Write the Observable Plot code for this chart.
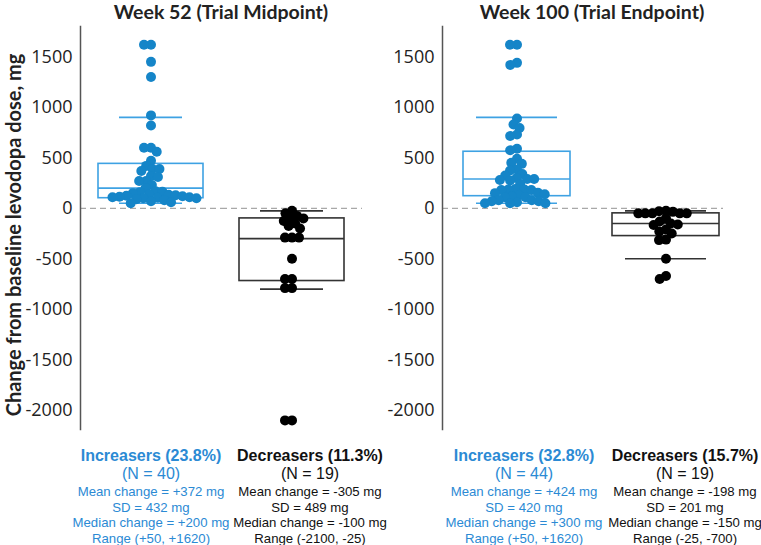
<!DOCTYPE html>
<html><head><meta charset="utf-8">
<script src="https://cdn.jsdelivr.net/npm/d3@7"></script>
<script src="https://cdn.jsdelivr.net/npm/@observablehq/plot@0.6"></script>
<style>
body{margin:0;background:#fff;}
#wrap{position:relative;width:761px;height:545px;overflow:hidden;background:#fff;}
.ttl{position:absolute;top:0px;line-height:21px;font:bold 19.5px Lato, sans-serif;color:#222;white-space:nowrap;transform:translateX(-50%);}
#ylab{position:absolute;left:13px;top:235px;line-height:22px;font:bold 20px Lato, sans-serif;color:#222;white-space:nowrap;transform:translate(-50%,-50%) rotate(-90deg);}
.panel{position:absolute;top:0;}
</style></head><body>
<div id="wrap">
  <div class="ttl" style="left:221px">Week 52 (Trial Midpoint)</div>
  <div class="ttl" style="left:592px">Week 100 (Trial Endpoint)</div>
  <div id="ylab">Change from baseline levodopa dose, mg</div>
</div>
<script>
// ---------- data ----------
const groups = ["Increasers", "Decreasers"];
const yTicks = [-2000, -1500, -1000, -500, 0, 500, 1000, 1500];
const yDomain = [-2190, 1800];

// Week 52
const inc52 = [1620,1620,1450,1300,920,820,600,600,560,470,420,390,390,370,320,310,270,270,230,200,
               170,165,160,150,140,135,130,125,120,115,110,110,105,100,100,90,80,70,60,50];
const dec52 = [-25,-50,-75,-100,-100,-125,-150,-175,-200,-290,-290,-290,-500,-700,-700,-790,-790,-2100,-2100];
const q1_52 = [100, -720];
const med52 = [200, -300];
const q3_52 = [440, -100];
const lo52 = [50, -800];
const hi52 = [900, -25];
const labels52 = [
  ["Increasers (23.8%)", "(N = 40)", "Mean change = +372 mg", "SD = 432 mg", "Median change = +200 mg", "Range (+50, +1620)"],
  ["Decreasers (11.3%)", "(N = 19)", "Mean change = -305 mg", "SD = 489 mg", "Median change = -100 mg", "Range (-2100, -25)"]
];

// Week 100
const inc100 = [1620,1620,1440,1420,890,830,795,730,715,590,575,490,450,440,385,375,340,325,300,290,
                290,280,275,240,190,185,185,180,180,155,150,140,130,120,110,110,80,80,70,70,60,50,50,50];
const dec100 = [-25,-30,-35,-50,-50,-50,-50,-50,-100,-130,-150,-160,-165,-210,-230,-250,-310,-315,-500,-670,-700];
const q1_100 = [120, -275];
const med100 = [290, -150];
const q3_100 = [560, -50];
const lo100 = [50, -500];
const hi100 = [900, -25];
const labels100 = [
  ["Increasers (32.8%)", "(N = 44)", "Mean change = +424 mg", "SD = 420 mg", "Median change = +300 mg", "Range (+50, +1620)"],
  ["Decreasers (15.7%)", "(N = 19)", "Mean change = -198 mg", "SD = 201 mg", "Median change = -150 mg", "Range (-25, -700)"]
];

// ---------- styles ----------
const dotColors = ["#1585c8", "#000000"];
const lineColors = ["#3ea2e3", "#333333"];
const textColors = ["#2b8ad4", "#111111"];
const lineDy = [26, 44, 62, 78, 93, 109];
const lineSize = [16, 16, 13.2, 13.2, 13.2, 13.2];

function buildPanel(cfg) {
  const boxRows = groups.map((g, i) => ({group: g, q1: cfg.q1[i], med: cfg.med[i], q3: cfg.q3[i], lo: cfg.lo[i], hi: cfg.hi[i], c: lineColors[i]}));
  const pointRows = [
    ...cfg.inc.map(v => ({group: groups[0], v, c: dotColors[0]})),
    ...cfg.dec.map(v => ({group: groups[1], v, c: dotColors[1]}))
  ];
  const textRows = groups.flatMap((g, i) => cfg.labels[i].map((t, k) => ({group: g, k, t, c: textColors[i]})));
  const marks = [];
  groups.forEach((g, i) => {
    marks.push(Plot.ruleY(boxRows.filter(d => d.group === g), {fx: "group", y: () => 0, stroke: "#a8a8a8", strokeDasharray: "6,4", strokeWidth: 1.2, insetRight: cfg.zeroInsetRight[i]}));
  });
  const common = {fx: "group", stroke: "c", strokeWidth: 1.6};
  marks.push(
    Plot.rect(boxRows, {...common, y1: "q1", y2: "q3", fill: "none", insetLeft: cfg.boxInset, insetRight: cfg.boxInset}),
    Plot.ruleY(boxRows, {...common, y: "med", insetLeft: cfg.boxInset, insetRight: cfg.boxInset}),
    Plot.ruleX(boxRows, {...common, y1: "q3", y2: "hi"}),
    Plot.ruleX(boxRows, {...common, y1: "lo", y2: "q1"}),
    Plot.ruleY(boxRows, {...common, y: "hi", insetLeft: cfg.capInset, insetRight: cfg.capInset}),
    Plot.ruleY(boxRows, {...common, y: "lo", insetLeft: cfg.capInset, insetRight: cfg.capInset}),
    Plot.dot(pointRows, Plot.dodgeX({anchor: "middle", padding: -3}, {fx: "group", y: "v", r: 5, fill: "c", stroke: "none"})),
    Plot.axisY({ticks: yTicks, tickFormat: d => String(d), tickSize: 0, tickPadding: 8, fontSize: 18, label: null, fill: "#222"}),
    Plot.frame({anchor: "left", facetAnchor: "left", stroke: "#555", strokeWidth: 1.5})
  );
  for (let k = 0; k < lineDy.length; k++) {
    groups.forEach((g, i) => {
      marks.push(Plot.text(textRows.filter(d => d.k === k && d.group === g), {
        fx: "group", text: "t", fill: "c", frameAnchor: "bottom", dy: lineDy[k], dx: cfg.textDx[i],
        fontSize: lineSize[k], fontWeight: k === 0 ? "bold" : "normal", fontFamily: "Liberation Sans", lineAnchor: "middle"
      }));
    });
  }
  const svg = Plot.plot({
    width: cfg.width, height: 545,
    marginLeft: cfg.marginLeft, marginRight: cfg.marginRight, marginTop: 26, marginBottom: 116,
    fx: {domain: groups, padding: 0, axis: null, label: null},
    y: {domain: yDomain, label: null},
    color: {type: "identity"},
    style: {fontFamily: "Open Sans", fontSize: "18px", color: "#222", overflow: "visible", background: "transparent"},
    marks
  });
  svg.classList.add("panel");
  svg.style.left = cfg.left + "px";
  return svg;
}

const wrap = document.getElementById("wrap");
wrap.prepend(buildPanel({
  inc: inc52, dec: dec52, q1: q1_52, med: med52, q3: q3_52, lo: lo52, hi: hi52, labels: labels52,
  left: 0, width: 370, marginLeft: 80, marginRight: 8,
  boxInset: 18, capInset: 39, zeroInsetRight: [0, 0], textDx: [0, 18]
}));
wrap.prepend(buildPanel({
  inc: inc100, dec: dec100, q1: q1_100, med: med100, q3: q3_100, lo: lo100, hi: hi100, labels: labels100,
  left: 370, width: 391, marginLeft: 72, marginRight: 21,
  boxInset: 21, capInset: 34, zeroInsetRight: [0, 17], textDx: [7, 19]
}));
</script>
</body></html>
